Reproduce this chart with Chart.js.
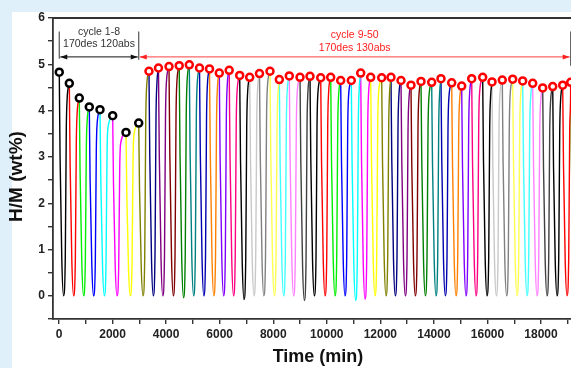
<!DOCTYPE html>
<html>
<head>
<meta charset="utf-8">
<script src="https://cdn.jsdelivr.net/npm/chart.js@4.4.1/dist/chart.umd.min.js"></script>
<style>
  html, body { margin: 0; padding: 0; width: 571px; height: 368px; overflow: hidden; background: #dff0fa; }
  #panel { position: absolute; left: 12px; top: 12px; width: 600px; height: 400px; background: #fff; }
  #wrap { position: absolute; left: 0; top: 0; width: 600px; height: 368px; }
</style>
</head>
<body>
<div id="panel"></div>
<div id="wrap"><canvas id="chart" width="600" height="368"></canvas></div>
<script>
// cycles 1-8 (black markers): start time (min) and peak H/M (wt%)
const blackTime = [10, 385, 758, 1131, 1531, 2005, 2502, 2977];
const blackPeak = [4.83, 4.59, 4.27, 4.08, 4.02, 3.89, 3.53, 3.73];

// cycles 9-50 (red markers)
const redTime = [3360, 3715, 4108, 4489, 4866, 5247, 5620, 5986, 6356, 6748,
  7121, 7487, 7879, 8227, 8600, 9000, 9373, 9773, 10146, 10519,
  10915, 11266, 11639, 12050, 12397, 12771, 13144, 13518, 13917, 14264,
  14664, 15037, 15411, 15821, 16169, 16553, 16942, 17315, 17689, 18062,
  18436, 18809, 19108];
const redPeak = [4.85, 4.92, 4.95, 4.97, 4.99, 4.92, 4.90, 4.81, 4.87, 4.76,
  4.72, 4.80, 4.85, 4.67, 4.75, 4.72, 4.74, 4.71, 4.72, 4.65,
  4.65, 4.81, 4.72, 4.71, 4.72, 4.65, 4.55, 4.63, 4.61, 4.69,
  4.60, 4.53, 4.69, 4.72, 4.62, 4.66, 4.68, 4.64, 4.59, 4.49,
  4.52, 4.55, 4.61];

// lowest point of each cycle
const cycleBottom = [0, 0, 0, 0, 0, 0, 0, 0, 0, 0, 0, -0.04, 0, 0, 0, 0, 0, -0.08, 0, 0,
  0, 0, 0, -0.1, 0, 0, 0, 0, -0.1, -0.07, 0, 0, 0, 0, 0, 0, 0, 0, 0, 0,
  0, 0, 0, 0, 0, 0, 0, 0, 0, 0, 0];

const cycleColors = ["#000000", "#ff0000", "#00ee00", "#0000ff", "#00ffff", "#ff00ff", "#ffff00", "#808000",
  "#000080", "#800080", "#800000", "#008000", "#008080", "#0000b0", "#ff8000", "#8000ff",
  "#ff0080", "#000000", "#c8c8c8", "#808080", "#ffff50", "#40ffff", "#ff80ff", "#404040"];

const xTicks = [0, 1000, 2000, 3000, 4000, 5000, 6000, 7000, 8000, 9000, 10000,
  11000, 12000, 13000, 14000, 15000, 16000, 17000, 18000, 19000];
const yTicks = [-0.5, 0, 0.5, 1, 1.5, 2, 2.5, 3, 3.5, 4, 4.5, 5, 5.5, 6];

// shape of one cycle: [minutes after the peak, fraction of the loading]
const desorbShape = [[30, 0.62], [95, 0.16]];
const BOTTOM_MIN = 160;
const absorbShape = [[225, 0.18], [262, 0.78], [295, 0.93]];

const allTime = blackTime.concat(redTime);
const allPeak = blackPeak.concat(redPeak);

const datasets = [];
for (let i = 0; i < allTime.length; i++) {
  const t = allTime[i], p = allPeak[i], b = cycleBottom[i];
  const pts = [{ x: t, y: p }];
  desorbShape.forEach(([dt, f]) => pts.push({ x: t + dt, y: b + f * (p - b) }));
  pts.push({ x: t + BOTTOM_MIN, y: b });
  if (i + 1 < allTime.length) {
    const pn = allPeak[i + 1];
    absorbShape.forEach(([dt, f]) => pts.push({ x: t + dt, y: b + f * (pn - b) }));
    pts.push({ x: allTime[i + 1], y: pn });
  }
  datasets.push({
    data: pts,
    borderColor: cycleColors[i % cycleColors.length],
    borderWidth: 1.4,
    pointRadius: 0,
    cubicInterpolationMode: "monotone",
    order: 2,
  });
}

const marker = (times, peaks, color) => ({
  data: times.map((t, i) => ({ x: t, y: peaks[i] })),
  showLine: false,
  pointRadius: 3.5,
  pointBorderWidth: 2.5,
  pointBorderColor: color,
  pointBackgroundColor: "#fff",
  clip: false,
  order: 0,
});
datasets.push(marker(blackTime, blackPeak, "#000"));
datasets.push(marker(redTime, redPeak, "#ff0000"));

const frame = {
  id: "frame",
  beforeDatasetsDraw(chart) {
    const { ctx, chartArea: a } = chart;
    ctx.save();
    ctx.strokeStyle = "#333";
    ctx.lineWidth = 1.8;
    ctx.beginPath();
    ctx.moveTo(a.left, a.top);
    ctx.lineTo(a.right, a.top);
    ctx.lineTo(a.right, a.bottom);
    ctx.stroke();
    // y axis title
    ctx.translate(17, (a.top + a.bottom) / 2 + 8);
    ctx.rotate(-Math.PI / 2);
    ctx.font = "bold 19px 'Liberation Sans', Arial, sans-serif";
    ctx.fillStyle = "#111";
    ctx.textAlign = "center";
    ctx.textBaseline = "middle";
    ctx.fillText("H/M (wt%)", 0, 0);
    ctx.restore();
  },
};

function arrowHead(ctx, x, y, dir) {
  ctx.beginPath();
  ctx.moveTo(x, y);
  ctx.lineTo(x - dir * 7, y - 2.5);
  ctx.lineTo(x - dir * 7, y + 2.5);
  ctx.closePath();
  ctx.fill();
}

const notes = {
  id: "notes",
  afterDatasetsDraw(chart) {
    const { ctx, scales: { x, y } } = chart;
    const x0 = x.getPixelForValue(blackTime[0]);
    const x1 = x.getPixelForValue(blackTime[blackTime.length - 1]);
    const x2 = x.getPixelForValue(redTime[redTime.length - 1]);
    const ay = y.getPixelForValue(5.16);
    const barTop = y.getPixelForValue(5.71);
    ctx.save();
    ctx.strokeStyle = "#555";
    ctx.lineWidth = 1.2;
    ctx.beginPath();
    ctx.moveTo(x0, barTop); ctx.lineTo(x0, y.getPixelForValue(5.12));
    ctx.moveTo(x1, barTop); ctx.lineTo(x1, y.getPixelForValue(5.1));
    ctx.moveTo(x2, barTop); ctx.lineTo(x2, y.getPixelForValue(4.97));
    ctx.stroke();
    ctx.strokeStyle = "#111";
    ctx.fillStyle = "#111";
    ctx.lineWidth = 1;
    ctx.beginPath(); ctx.moveTo(x0 + 1, ay); ctx.lineTo(x1 - 1, ay); ctx.stroke();
    arrowHead(ctx, x0 + 1, ay, -1);
    arrowHead(ctx, x1 - 1, ay, 1);
    ctx.strokeStyle = "#ff4040";
    ctx.fillStyle = "#ff2020";
    ctx.beginPath(); ctx.moveTo(x1 + 1, ay); ctx.lineTo(x2 - 1, ay); ctx.stroke();
    arrowHead(ctx, x1 + 1, ay, -1);
    arrowHead(ctx, x2 - 1, ay, 1);
    ctx.font = "10.5px 'Liberation Sans', Arial, sans-serif";
    ctx.textAlign = "center";
    ctx.textBaseline = "middle";
    ctx.fillStyle = "#333";
    const bx = (x0 + x1) / 2;
    ctx.fillText("cycle 1-8", bx, y.getPixelForValue(5.69));
    ctx.fillText("170des 120abs", bx, y.getPixelForValue(5.43));
    ctx.fillStyle = "#ff2020";
    const rx = (x1 + x2) / 2;
    ctx.fillText("cycle 9-50", rx, y.getPixelForValue(5.64));
    ctx.fillText("170des 130abs", rx, y.getPixelForValue(5.36));
    ctx.restore();
  },
};

const tickFont = { family: "'Liberation Sans', Arial, sans-serif", size: 12, weight: "bold" };
const titleFont = { family: "'Liberation Sans', Arial, sans-serif", size: 18, weight: "bold" };

new Chart(document.getElementById("chart"), {
  type: "line",
  data: { datasets },
  options: {
    responsive: false,
    animation: false,
    devicePixelRatio: 1,
    layout: { padding: { left: 0, top: 18, right: 17, bottom: 0 } },
    plugins: { legend: { display: false }, tooltip: { enabled: false } },
    scales: {
      x: {
        type: "linear",
        min: -224,
        max: 19567,
        afterBuildTicks: s => { s.ticks = xTicks.map(v => ({ value: v })); },
        afterFit: s => { s.height = 49; },
        ticks: {
          autoSkip: false,
          maxRotation: 0,
          padding: 3,
          color: "#222",
          font: tickFont,
          callback: v => (v % 2000 === 0 ? String(v) : ""),
        },
        grid: { drawOnChartArea: false, drawTicks: true, tickLength: 5, color: "#333", lineWidth: 1.4 },
        border: { display: true, color: "#333", width: 1.8 },
        title: { display: true, text: "Time (min)", color: "#111", font: titleFont, padding: 0 },
      },
      y: {
        min: -0.5,
        max: 6,
        afterBuildTicks: s => { s.ticks = yTicks.map(v => ({ value: v })); },
        afterFit: s => { s.width = 53; },
        ticks: {
          autoSkip: false,
          padding: 3,
          color: "#222",
          font: tickFont,
          callback: v => (Number.isInteger(v) && v >= 0 ? String(v) : ""),
        },
        grid: { drawOnChartArea: false, drawTicks: true, tickLength: 5, color: "#333", lineWidth: 1.4 },
        border: { display: true, color: "#333", width: 1.8 },
      },
    },
  },
  plugins: [frame, notes],
});
</script>
</body>
</html>
